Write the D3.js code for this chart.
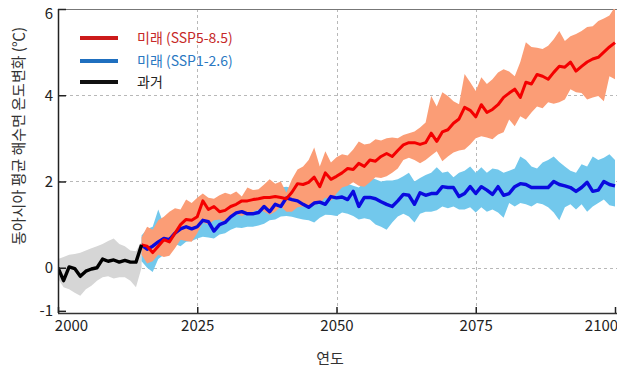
<!DOCTYPE html>
<html>
<head>
<meta charset="utf-8">
<script src="https://cdn.jsdelivr.net/npm/d3@7"></script>
<style>
  body { margin: 0; background: #fff; }
  svg { display: block; }
  text { font-family: "Noto Sans CJK KR", "Noto Sans", sans-serif; }
</style>
</head>
<body>
<svg id="chart" width="617" height="371"></svg>
<script>
// Observed period (2000-2015): ensemble mean and spread
const pastYears = d3.range(2000, 2016);
const pastMean = [0.0, -0.3, 0.02, -0.02, -0.2, -0.08, -0.03, 0.0, 0.2, 0.15, 0.18, 0.13, 0.17, 0.13, 0.13, 0.53];
const pastHigh = [0.2, 0.25, 0.3, 0.32, 0.35, 0.4, 0.45, 0.5, 0.55, 0.62, 0.68, 0.55, 0.5, 0.4, 0.38, 0.6];
const pastLow  = [-0.25, -0.45, -0.5, -0.58, -0.65, -0.5, -0.42, -0.3, -0.22, -0.2, -0.25, -0.22, -0.22, -0.3, -0.45, 0.0];

// Projections (2015-2100)
const futureYears = d3.range(2015, 2101);
const ssp585Mean = [
  0.53, 0.5, 0.35, 0.5, 0.65, 0.6, 0.8, 1.0, 1.12, 1.1,
  1.18, 1.55, 1.35, 1.42, 1.3, 1.33, 1.42, 1.47, 1.55, 1.55,
  1.58, 1.6, 1.63, 1.63, 1.65, 1.63, 1.6, 1.75, 1.95, 1.93,
  1.98, 2.1, 1.88, 2.2, 2.05, 2.12, 2.2, 2.3, 2.28, 2.42,
  2.35, 2.5, 2.47, 2.58, 2.65, 2.58, 2.72, 2.85, 2.9, 2.9,
  2.86, 2.9, 3.12, 2.93, 3.15, 3.2, 3.35, 3.45, 3.72, 3.65,
  3.5, 3.78, 3.6, 3.67, 3.78, 3.95, 4.05, 4.14, 3.95, 4.3,
  4.26, 4.48, 4.44, 4.37, 4.53, 4.67, 4.65, 4.77, 4.56, 4.67,
  4.77, 4.84, 4.88, 5.0, 5.12, 5.22
];
const ssp585High = [
  0.7, 0.95, 0.88, 1.1, 1.18, 1.3, 1.38, 1.35, 1.58, 1.5,
  1.62, 1.72, 1.62, 1.6, 1.68, 1.74, 1.7, 1.77, 1.65, 1.86,
  1.8, 1.82, 1.93, 2.05, 1.95, 2.0, 1.74, 2.05, 2.28, 2.35,
  2.5, 2.79, 2.35, 2.7, 2.44, 2.56, 2.63, 2.6, 2.74, 2.93,
  2.86, 2.88, 2.98, 2.95, 3.0, 3.02, 3.0, 3.08, 3.12, 3.16,
  3.25, 3.37, 3.98, 3.74, 4.07, 3.98, 3.86, 3.79, 4.49, 4.3,
  4.1, 4.42, 4.26, 4.37, 4.53, 4.6, 4.55, 4.44, 4.77, 5.23,
  5.12, 5.1, 5.07, 5.15, 5.3, 5.49, 5.26, 5.37, 5.42, 5.49,
  5.58, 5.6, 5.72, 5.78, 5.85, 6.05
];
const ssp585Low = [
  0.3, 0.1, 0.15, 0.3, 0.25, 0.28, 0.45, 0.65, 0.62, 0.6,
  0.8, 1.05, 1.0, 1.1, 1.12, 1.05, 1.16, 1.25, 1.2, 1.25,
  1.3, 1.35, 1.3, 1.23, 1.3, 1.42, 1.3, 1.3, 1.4, 1.42,
  1.4, 1.45, 1.5, 1.63, 1.55, 1.72, 1.86, 1.9, 1.98, 1.9,
  1.88, 1.98, 2.1, 2.08, 2.12, 2.2, 2.3, 2.5, 2.55, 2.5,
  2.42, 2.5, 2.6, 2.7, 2.47, 2.58, 2.67, 2.72, 2.74, 2.86,
  3.0, 3.05, 3.02, 2.98, 3.09, 3.14, 3.44, 3.28, 3.51, 3.44,
  3.6, 3.74, 3.7, 3.84, 3.8, 3.84, 3.9, 4.14, 4.07, 4.05,
  3.9, 3.95, 3.98, 3.86, 4.44, 4.37
];
const ssp126Mean = [
  0.53, 0.43, 0.5, 0.6, 0.68, 0.65, 0.8, 0.9, 0.95, 0.9,
  0.95, 1.1, 1.07, 0.85, 1.0, 1.05, 1.18, 1.27, 1.3, 1.25,
  1.25, 1.28, 1.42, 1.3, 1.47, 1.42, 1.62, 1.58, 1.55, 1.47,
  1.4, 1.5, 1.52, 1.47, 1.65, 1.62, 1.64, 1.58, 1.77, 1.42,
  1.63, 1.63, 1.6, 1.53, 1.47, 1.42, 1.55, 1.7, 1.68, 1.47,
  1.74, 1.68, 1.72, 1.72, 1.88, 1.86, 1.86, 1.65, 1.72, 1.88,
  1.72, 1.88, 1.8, 1.7, 1.88, 1.68, 1.72, 1.88, 1.95, 1.93,
  1.86, 1.86, 1.86, 1.86, 2.0, 1.93, 1.9, 1.86, 1.77, 1.86,
  1.98, 1.77, 1.8, 2.0, 1.93, 1.9
];
const ssp126High = [
  0.75, 0.9, 0.95, 1.35, 1.0, 1.05, 1.15, 1.2, 1.3, 1.25,
  1.3, 1.4, 1.35, 1.3, 1.35, 1.4, 1.45, 1.55, 1.6, 1.6,
  1.65, 1.7, 1.8, 1.75, 1.8, 1.86, 1.88, 1.85, 1.81, 1.85,
  1.88, 1.85, 1.9, 1.88, 1.95, 1.98, 2.0, 1.95, 1.9, 1.86,
  1.98, 2.1, 2.05, 2.0, 2.02, 2.02, 2.05, 2.12, 2.2, 2.0,
  2.08, 2.15, 2.2, 2.33, 2.2, 2.23, 2.1, 2.2, 2.25, 2.35,
  2.2, 2.33, 2.2, 2.3, 2.28, 2.2, 2.25, 2.3, 2.58, 2.5,
  2.35, 2.3, 2.44, 2.5, 2.58, 2.45, 2.35, 2.25, 2.2, 2.4,
  2.35, 2.58, 2.5, 2.55, 2.63, 2.5
];
const ssp126Low = [
  0.15, 0.0, -0.1, 0.2, 0.3, 0.35, 0.55, 0.5, 0.6, 0.62,
  0.68, 0.72, 0.7, 0.68, 0.77, 0.8, 0.88, 0.93, 0.92, 0.95,
  0.95, 0.98, 1.02, 1.1, 1.12, 1.19, 1.2, 1.18, 1.15, 1.12,
  1.1, 1.05, 1.16, 1.23, 1.22, 1.2, 1.28, 1.25, 1.2, 1.12,
  1.15, 1.12, 1.0, 0.95, 0.88, 1.05, 1.19, 1.25, 1.19, 1.05,
  1.25, 1.3, 1.3, 1.33, 1.42, 1.38, 1.42, 1.35, 1.35, 1.4,
  1.28, 1.4, 1.3, 1.35, 1.28, 1.16, 1.5, 1.42, 1.5, 1.47,
  1.42, 1.5, 1.47, 1.4, 1.28, 1.1, 1.4, 1.47, 1.35, 1.47,
  1.3, 1.42, 1.5, 1.58, 1.45, 1.42
];

const yTicks = [-1, 0, 2, 4, 6];
const xTicks = [2000, 2025, 2050, 2075, 2100];
const gridY = [0, 2, 4];
const gridX = [2025, 2050, 2075];

const legendItems = [
  { label: "미래 (SSP5-8.5)", line: "#cc1a1a", text: "#c62828" },
  { label: "미래 (SSP1-2.6)", line: "#1f6fbf", text: "#2a78c2" },
  { label: "과거", line: "#111111", text: "#222222" }
];

const svg = d3.select("#chart");
const plot = { left: 58, top: 9, right: 620, bottom: 313 };

const x = d3.scaleLinear().domain([2000, 2100]).range([plot.left, 615]);
const y = d3.scaleLinear().domain([-1.05, 6]).range([plot.bottom, plot.top]);

svg.append("defs").append("clipPath").attr("id", "plot-clip")
  .append("rect")
  .attr("x", plot.left).attr("y", plot.top)
  .attr("width", plot.right - plot.left).attr("height", plot.bottom - plot.top);

// gridlines
const grid = svg.append("g").attr("stroke", "#b8b8b8").attr("stroke-width", 1)
  .attr("stroke-dasharray", "3,3");
grid.selectAll("line.h").data(gridY).join("line").attr("class", "h")
  .attr("x1", plot.left).attr("x2", plot.right)
  .attr("y1", d => Math.round(y(d)) + 0.5).attr("y2", d => Math.round(y(d)) + 0.5);
grid.selectAll("line.v").data(gridX).join("line").attr("class", "v")
  .attr("x1", d => Math.round(x(d)) + 0.5).attr("x2", d => Math.round(x(d)) + 0.5)
  .attr("y1", plot.top).attr("y2", plot.bottom);

// top frame line
svg.append("line").attr("x1", plot.left).attr("x2", plot.right)
  .attr("y1", plot.top + 0.5).attr("y2", plot.top + 0.5)
  .attr("stroke", "#777").attr("stroke-width", 1);

const g = svg.append("g").attr("clip-path", "url(#plot-clip)");

function band(years, lo, hi) {
  return d3.area()
    .x((d, i) => x(years[i]))
    .y0((d, i) => y(lo[i]))
    .y1((d, i) => y(hi[i]))(years);
}
function line(years, vals) {
  return d3.line()
    .x((d, i) => x(years[i]))
    .y((d, i) => y(vals[i]))
    .curve(d3.curveLinear)(years);
}

// spread bands
g.append("path").attr("d", band(pastYears, pastLow, pastHigh)).attr("fill", "#d6d6d6");
g.append("path").attr("d", band(futureYears, ssp126Low, ssp126High)).attr("fill", "#72c8ec");
g.append("path").attr("d", band(futureYears, ssp585Low, ssp585High)).attr("fill", "#fb9d76");

// mean lines
g.append("path").attr("d", line(futureYears, ssp126Mean))
  .attr("fill", "none").attr("stroke", "#0a0adf").attr("stroke-width", 3.4)
  .attr("stroke-linejoin", "round");
g.append("path").attr("d", line(futureYears, ssp585Mean))
  .attr("fill", "none").attr("stroke", "#f40000").attr("stroke-width", 3)
  .attr("stroke-linejoin", "round");
g.append("path").attr("d", line(pastYears, pastMean))
  .attr("fill", "none").attr("stroke", "#000").attr("stroke-width", 3.4)
  .attr("stroke-linejoin", "round");

// axes
const yAxis = d3.axisLeft(y).tickValues(yTicks).tickSize(-8).tickSizeOuter(0).tickPadding(5)
  .tickFormat(d3.format("d"));
const yg = svg.append("g").attr("transform", `translate(${plot.left},0)`).call(yAxis);
yg.select(".domain").attr("stroke", "#222").attr("stroke-width", 1.5)
  .attr("d", `M0.5,${plot.top}V${plot.bottom}`);
yg.selectAll(".tick line").attr("stroke", "#222").attr("stroke-width", 1.5);
yg.selectAll(".tick text").attr("font-size", 15).attr("fill", "#222")
  .attr("dy", d => d === 6 ? "0.62em" : "0.32em")
  .text(d => d < 0 ? "-" + Math.abs(d) : d);

const xAxis = d3.axisBottom(x).tickValues(xTicks).tickSize(-6).tickSizeOuter(0).tickPadding(7)
  .tickFormat(d3.format("d"));
const xg = svg.append("g").attr("transform", `translate(0,${plot.bottom})`).call(xAxis);
xg.select(".domain").attr("stroke", "#333").attr("stroke-width", 1.5)
  .attr("d", `M${plot.left},0.5H${plot.right}`);
xg.selectAll(".tick line").attr("stroke", "#222").attr("stroke-width", 1.5);
xg.selectAll(".tick text").attr("font-size", 15).attr("fill", "#222")
  .attr("dx", d => d === 2000 ? 13 : d === 2100 ? -14 : 0);

// axis titles
svg.append("text")
  .attr("transform", "translate(24,136) rotate(-90)")
  .attr("text-anchor", "middle").attr("font-size", 15).attr("fill", "#333")
  .text("동아시아 평균 해수면 온도변화 (℃)");
svg.append("text").attr("x", 330).attr("y", 364)
  .attr("text-anchor", "middle").attr("font-size", 15).attr("fill", "#333")
  .text("연도");

// legend
const lg = svg.append("g");
const legendY = [38, 61, 82];
legendItems.forEach((item, i) => {
  lg.append("line").attr("x1", 80).attr("x2", 118)
    .attr("y1", legendY[i]).attr("y2", legendY[i])
    .attr("stroke", item.line).attr("stroke-width", 4);
  lg.append("text").attr("x", 137).attr("y", legendY[i] + 5)
    .attr("font-size", 14).attr("fill", item.text).text(item.label);
});
</script>
</body>
</html>
